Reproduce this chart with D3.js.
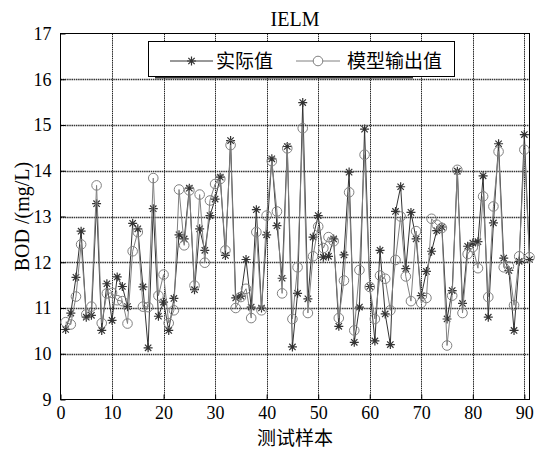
<!DOCTYPE html>
<html>
<head>
<meta charset="utf-8">
<script src="https://cdn.jsdelivr.net/npm/d3@7"></script>
<style>
  html, body { margin: 0; padding: 0; background: #fff; }
  svg { display: block; }
  text { font-family: "Liberation Serif", "Times New Roman", "Noto Sans CJK SC", serif; fill: #000; }
  .cjk { font-family: "Noto Sans CJK SC", "Liberation Serif", serif; }
</style>
</head>
<body>
<svg id="chart" width="535" height="450"></svg>
<script>
const title = "IELM";
const xLabel = "测试样本";
const yLabel = "BOD /(mg/L)";
const seriesNames = ["实际值", "模型输出值"];
const xTicks = [0, 10, 20, 30, 40, 50, 60, 70, 80, 90];
const yTicks = [9, 10, 11, 12, 13, 14, 15, 16, 17];

const actual = [10.53, 10.89, 11.67, 12.68, 10.80, 10.84, 13.28, 10.51, 11.53, 10.73,
  11.68, 11.47, 11.03, 12.85, 12.73, 11.46, 10.13, 13.17, 10.82, 11.13,
  10.51, 11.21, 12.60, 12.51, 13.62, 11.40, 12.73, 12.26, 13.02, 13.38,
  13.86, 12.15, 14.66, 11.22, 11.26, 12.06, 11.02, 13.15, 11.00, 12.60,
  14.26, 12.80, 11.65, 14.53, 10.15, 11.32, 15.49, 11.20, 12.55, 13.02,
  12.11, 12.13, 12.51, 10.60, 12.16, 13.97, 10.25, 11.02, 14.91, 11.47,
  10.28, 12.26, 10.87, 10.20, 13.11, 13.65, 11.86, 13.09, 12.51, 11.27,
  11.80, 12.24, 12.69, 12.77, 10.76, 11.38, 13.99, 11.10, 12.35, 12.42,
  12.45, 13.89, 10.80, 12.86, 14.59, 12.09, 11.82, 10.51, 12.02, 14.79,
  12.06];

const predicted = [10.69, 10.64, 11.25, 12.39, 10.86, 11.03, 13.68, 10.67, 11.32, 11.33,
  11.17, 11.15, 10.66, 12.24, 12.66, 11.03, 11.02, 13.84, 11.27, 11.73,
  10.67, 10.95, 13.59, 12.37, 13.57, 11.49, 13.48, 11.99, 13.35, 13.71,
  13.82, 12.26, 14.56, 11.00, 11.24, 11.42, 10.78, 12.66, 10.95, 13.02,
  14.21, 13.11, 11.32, 14.49, 10.76, 11.89, 14.93, 10.89, 12.13, 12.78,
  12.31, 12.55, 12.46, 10.78, 11.60, 13.53, 10.51, 11.83, 14.35, 11.46,
  10.76, 11.71, 11.64, 10.95, 12.05, 13.00, 11.69, 11.15, 12.68, 11.11,
  11.22, 12.95, 12.82, 12.75, 10.18, 11.27, 14.02, 10.89, 12.18, 12.33,
  11.87, 13.44, 11.24, 13.22, 14.42, 11.89, 11.91, 11.06, 12.13, 14.46,
  12.11];

const svg = d3.select("#chart");
const mLeft = 60.5, mRight = 529.5, mTop = 33.5, mBottom = 399.5;

const x = d3.scaleLinear().domain([0, 91]).range([mLeft, mRight]);
const y = d3.scaleLinear().domain([9, 17]).range([mBottom, mTop]);

// grid
const grid = svg.append("g");
grid.selectAll(".gx").data(xTicks.filter(d => d > 0)).enter().append("line")
  .attr("x1", d => Math.round(x(d)) + 0.5).attr("x2", d => Math.round(x(d)) + 0.5)
  .attr("y1", mTop).attr("y2", mBottom)
  .attr("stroke", "#222").attr("stroke-width", 1).attr("stroke-dasharray", "1.5,0.7");
grid.selectAll(".gy").data(yTicks.filter(d => d > 9 && d < 17)).enter().append("line")
  .attr("x1", mLeft).attr("x2", mRight)
  .attr("y1", d => Math.round(y(d)) + 0.5).attr("y2", d => Math.round(y(d)) + 0.5)
  .attr("stroke", "#333").attr("stroke-width", 1.3).attr("stroke-dasharray", "1.5,0.7");

// axes
const xAxis = d3.axisBottom(x).tickValues(xTicks).tickSize(-5).tickPadding(9).tickFormat(d3.format("d"));
const yAxis = d3.axisLeft(y).tickValues(yTicks).tickSize(-5).tickPadding(10).tickFormat(d3.format("d"));
const gx = svg.append("g").attr("transform", `translate(0,${mBottom})`).call(xAxis);
const gy = svg.append("g").attr("transform", `translate(${mLeft},0)`).call(yAxis);
[gx, gy].forEach(g => {
  g.select(".domain").remove();
  g.selectAll("line").attr("stroke", "#000");
  g.selectAll("text").style("font-size", "18px").style("font-family", "'Liberation Serif', serif");
});
gx.selectAll("text").attr("dy", "0.6em");
gy.selectAll("text").attr("dx", "1px");

// frame
svg.append("rect").attr("x", mLeft).attr("y", mTop).attr("width", mRight - mLeft).attr("height", mBottom - mTop)
  .attr("fill", "none").attr("stroke", "#000").attr("stroke-width", 1);

// series
const actualPts = actual.map((v, i) => [i + 1, v]);
const predPts = predicted.map((v, i) => [i + 1, v]);
const line = d3.line().x(d => x(d[0])).y(d => y(d[1]));

const starPath = (cx, cy, s) => {
  const d = s * 0.7071;
  return `M${cx - s},${cy}L${cx + s},${cy}M${cx},${cy - s}L${cx},${cy + s}` +
         `M${cx - d},${cy - d}L${cx + d},${cy + d}M${cx - d},${cy + d}L${cx + d},${cy - d}`;
};

const cActual = "#333";
const cPred = "#808080";

svg.append("path").datum(actualPts).attr("d", line)
  .attr("fill", "none").attr("stroke", cActual).attr("stroke-width", 1);
svg.append("g").selectAll("path").data(actualPts).enter().append("path")
  .attr("d", d => starPath(x(d[0]), y(d[1]), 4.5))
  .attr("stroke", cActual).attr("stroke-width", 1.2).attr("fill", "none");

svg.append("path").datum(predPts).attr("d", line)
  .attr("fill", "none").attr("stroke", cPred).attr("stroke-width", 1);
svg.append("g").selectAll("circle").data(predPts).enter().append("circle")
  .attr("cx", d => x(d[0])).attr("cy", d => y(d[1])).attr("r", 4.8)
  .attr("fill", "none").attr("stroke", cPred).attr("stroke-width", 1);

// title
svg.append("text").attr("x", (mLeft + mRight) / 2).attr("y", 25.5)
  .attr("text-anchor", "middle").style("font-size", "20px").text(title);

// axis labels
svg.append("text").attr("class", "cjk").attr("x", (mLeft + mRight) / 2).attr("y", 445)
  .attr("text-anchor", "middle").style("font-size", "19px").text(xLabel);
svg.append("text").attr("transform", `translate(29,${(mTop + mBottom) / 2}) rotate(-90)`)
  .attr("text-anchor", "middle").style("font-size", "20px").text(yLabel);

// legend
const lg = svg.append("g");
lg.append("line").attr("x1", 155).attr("x2", 413).attr("y1", 77.5).attr("y2", 77.5)
  .attr("stroke", "#333").attr("stroke-width", 2);
lg.append("rect").attr("x", 148.5).attr("y", 41.5).attr("width", 306).attr("height", 35)
  .attr("fill", "#fff").attr("stroke", "#000").attr("stroke-width", 1);
const ly = 61;
lg.append("line").attr("x1", 170).attr("x2", 213).attr("y1", ly).attr("y2", ly)
  .attr("stroke", cActual).attr("stroke-width", 1);
lg.append("path").attr("d", starPath(191.5, ly, 4.5)).attr("stroke", cActual).attr("stroke-width", 1.2);
lg.append("text").attr("class", "cjk").attr("x", 216).attr("y", ly + 7)
  .style("font-size", "19px").text(seriesNames[0]);
lg.append("line").attr("x1", 296).attr("x2", 340).attr("y1", ly).attr("y2", ly)
  .attr("stroke", cPred).attr("stroke-width", 1);
lg.append("circle").attr("cx", 318).attr("cy", ly).attr("r", 4.8)
  .attr("fill", "#fff").attr("stroke", cPred).attr("stroke-width", 1);
lg.append("text").attr("class", "cjk").attr("x", 347).attr("y", ly + 7)
  .style("font-size", "19px").text(seriesNames[1]);
</script>
</body>
</html>
